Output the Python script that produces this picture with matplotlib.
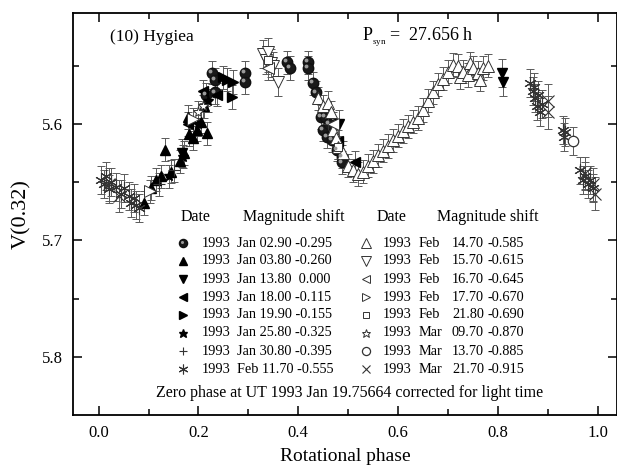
import matplotlib
matplotlib.use("Agg")
import matplotlib.pyplot as plt
from matplotlib import transforms

plt.rcParams["font.family"] = ["Liberation Serif", "DejaVu Serif"]
plt.rcParams["mathtext.fontset"] = "custom"
plt.rcParams["mathtext.rm"] = "Liberation Serif"
plt.rcParams["mathtext.it"] = "Liberation Serif:italic"

# ---- light-curve data: rotational phase, reduced V magnitude, 1-sigma error ----
jan0290_phase = [0.215, 0.227, 0.233, 0.233, 0.293, 0.293, 0.377, 0.384, 0.420, 0.420,
                 0.430, 0.436, 0.446, 0.454, 0.450, 0.458, 0.468, 0.462, 0.478, 0.488, 0.488]
jan0290_mag = [5.575, 5.556, 5.562, 5.573, 5.556, 5.564, 5.547, 5.552, 5.547, 5.552,
               5.565, 5.573, 5.594, 5.594, 5.605, 5.611, 5.614, 5.600, 5.622, 5.628, 5.633]
jan0290_err = 0.010

jan0380_phase = [0.090, 0.105, 0.115, 0.125, 0.133, 0.145, 0.163, 0.172, 0.179, 0.181,
                 0.190, 0.198, 0.205, 0.212, 0.217]
jan0380_mag = [5.668, 5.655, 5.648, 5.645, 5.622, 5.641, 5.632, 5.625, 5.594, 5.609,
               5.612, 5.605, 5.598, 5.585, 5.608]
jan0380_err = 0.010

jan1380_phase = [0.167, 0.482, 0.808, 0.810]
jan1380_mag = [5.625, 5.600, 5.556, 5.564]
jan1380_err = 0.012

jan1800_phase = [0.180, 0.210, 0.237, 0.480, 0.514]
jan1800_mag = [5.600, 5.572, 5.575, 5.615, 5.633]
jan1800_err = 0.010

jan1990_phase = [0.250, 0.257, 0.267, 0.270]
jan1990_mag = [5.560, 5.562, 5.577, 5.564]
jan1990_err = 0.010

jan2580_phase = [0.140, 0.170, 0.200, 0.220]
jan2580_mag = [5.645, 5.628, 5.600, 5.580]
jan2580_err = 0.010

jan3080_phase = [0.120, 0.150, 0.460]
jan3080_mag = [5.652, 5.640, 5.600]
jan3080_err = 0.010

feb1170_phase = [0.005, 0.010, 0.015, 0.020, 0.025, 0.035, 0.045, 0.050, 0.060, 0.065,
                 0.070, 0.075, 0.080, 0.865, 0.870, 0.872, 0.875, 0.878, 0.880, 0.885,
                 0.888, 0.930, 0.932, 0.935, 0.965, 0.970, 0.975, 0.980, 0.985, 0.990]
feb1170_mag = [5.648, 5.652, 5.645, 5.656, 5.650, 5.654, 5.660, 5.655, 5.662, 5.668,
               5.664, 5.670, 5.672, 5.565, 5.572, 5.568, 5.578, 5.585, 5.575, 5.590,
               5.583, 5.605, 5.611, 5.607, 5.640, 5.648, 5.645, 5.652, 5.648, 5.655]
feb1170_err = 0.012

feb1470_phase = [0.440, 0.450, 0.460, 0.465, 0.470, 0.475, 0.480, 0.490, 0.500, 0.510,
                 0.520, 0.530, 0.540, 0.550, 0.560, 0.570, 0.580, 0.590, 0.600, 0.610,
                 0.620, 0.630, 0.640, 0.650, 0.660, 0.670, 0.680, 0.690, 0.700, 0.710,
                 0.720, 0.725, 0.730, 0.740, 0.745, 0.750, 0.760, 0.765, 0.770, 0.780]
feb1470_mag = [5.578, 5.585, 5.582, 5.590, 5.605, 5.612, 5.620, 5.625, 5.636, 5.640,
               5.643, 5.641, 5.636, 5.632, 5.627, 5.623, 5.619, 5.614, 5.610, 5.606,
               5.602, 5.598, 5.595, 5.588, 5.580, 5.573, 5.566, 5.561, 5.555, 5.549,
               5.550, 5.560, 5.555, 5.558, 5.548, 5.552, 5.556, 5.562, 5.552, 5.550]
feb1470_err = 0.010

feb1570_phase = [0.330, 0.335, 0.340, 0.345, 0.350, 0.360]
feb1570_mag = [5.540, 5.545, 5.538, 5.548, 5.550, 5.564]
feb1570_err = 0.012

feb1670_phase = [0.340, 0.470]
feb1670_mag = [5.552, 5.600]
feb1670_err = 0.010

feb1770_phase = [0.103, 0.190]
feb1770_mag = [5.658, 5.596]
feb1770_err = 0.010

feb2180_phase = [0.340, 0.480]
feb2180_mag = [5.545, 5.620]
feb2180_err = 0.010

mar0970_phase = [0.200, 0.210]
mar0970_mag = [5.590, 5.585]
mar0970_err = 0.010

mar1370_phase = [0.950]
mar1370_mag = [5.615]
mar1370_err = 0.012

mar2170_phase = [0.020, 0.040, 0.900, 0.900, 0.975, 0.990, 0.995]
mar2170_mag = [5.652, 5.662, 5.580, 5.590, 5.642, 5.652, 5.660]
mar2170_err = 0.014

# legend table
legend_years = ["1993"] * 16
legend_months = ["Jan", "Jan", "Jan", "Jan", "Jan", "Jan", "Jan", "Feb",
                 "Feb", "Feb", "Feb", "Feb", "Feb", "Mar", "Mar", "Mar"]
legend_days = ["02.90", "03.80", "13.80", "18.00", "19.90", "25.80", "30.80", "11.70",
               "14.70", "15.70", "16.70", "17.70", "21.80", "09.70", "13.70", "21.70"]
legend_shifts = ["-0.295", "-0.260", " 0.000", "-0.115", "-0.155", "-0.325", "-0.395", "-0.555",
                 "-0.585", "-0.615", "-0.645", "-0.670", "-0.690", "-0.870", "-0.885", "-0.915"]

x_ticks = [0.0, 0.2, 0.4, 0.6, 0.8, 1.0]
y_ticks = [5.6, 5.7, 5.8]

# ---- figure ----
fig = plt.figure(figsize=(6.17, 4.65), dpi=100)
ax = fig.add_axes([73 / 617, 50 / 465, 544 / 617, 401.7 / 465])

ASTER = (6, 2, 0)
series = [
    (jan0290_phase, jan0290_mag, jan0290_err, dict(marker="o", mfc="#1a1a1a", mec="#111111", ms=7.5)),
    (jan0380_phase, jan0380_mag, jan0380_err, dict(marker="^", mfc="black", mec="black", ms=7.5)),
    (jan1380_phase, jan1380_mag, jan1380_err, dict(marker="v", mfc="black", mec="black", ms=7.5)),
    (jan1800_phase, jan1800_mag, jan1800_err, dict(marker="<", mfc="black", mec="black", ms=7.5)),
    (jan1990_phase, jan1990_mag, jan1990_err, dict(marker=">", mfc="black", mec="black", ms=7.5)),
    (jan2580_phase, jan2580_mag, jan2580_err, dict(marker="*", mfc="black", mec="black", ms=8)),
    (jan3080_phase, jan3080_mag, jan3080_err, dict(marker="+", mfc="none", mec="#333333", ms=8, mew=0.8)),
    (feb1170_phase, feb1170_mag, feb1170_err, dict(marker=ASTER, mfc="none", mec="#333333", ms=9, mew=0.8)),
    (feb1470_phase, feb1470_mag, feb1470_err, dict(marker="^", mfc="white", mec="#333333", ms=9, mew=0.7)),
    (feb1570_phase, feb1570_mag, feb1570_err, dict(marker="v", mfc="white", mec="#333333", ms=9, mew=0.7)),
    (feb1670_phase, feb1670_mag, feb1670_err, dict(marker="<", mfc="white", mec="#333333", ms=8, mew=0.7)),
    (feb1770_phase, feb1770_mag, feb1770_err, dict(marker=">", mfc="white", mec="#333333", ms=8, mew=0.7)),
    (feb2180_phase, feb2180_mag, feb2180_err, dict(marker="s", mfc="white", mec="#333333", ms=6, mew=0.7)),
    (mar0970_phase, mar0970_mag, mar0970_err, dict(marker="*", mfc="white", mec="#333333", ms=8, mew=0.7)),
    (mar1370_phase, mar1370_mag, mar1370_err, dict(marker="o", mfc="white", mec="#333333", ms=7.5, mew=0.9)),
    (mar2170_phase, mar2170_mag, mar2170_err, dict(marker="x", mfc="none", mec="#333333", ms=8, mew=0.8)),
]

for ph, mag, err, style in series:
    ax.errorbar(ph, mag, yerr=err, fmt="none", ecolor="#5a5a5a", elinewidth=0.7,
                capsize=3.2, capthick=0.7, zorder=2)
for ph, mag, err, style in series:
    ax.plot(ph, mag, ls="none", zorder=3, **style)

# shading highlight on the sphere symbols
hl = transforms.offset_copy(ax.transData, fig=fig, x=-1.3, y=1.3, units="points")
ax.plot(jan0290_phase, jan0290_mag, ls="none", marker="o", ms=2.8, mfc="#9a9a9a",
        mec="none", transform=hl, zorder=4)

ax.set_xlim(-0.0515, 1.039)
ax.set_ylim(5.85, 5.505)
ax.set_xticks(x_ticks)
ax.set_xticks([0.1, 0.3, 0.5, 0.7, 0.9], minor=True)
ax.set_yticks(y_ticks)
ax.set_yticks([5.55, 5.65, 5.75], minor=True)
ax.set_xticklabels([f"{t:.1f}" for t in x_ticks])
ax.set_yticklabels([f"{t:.1f}" for t in y_ticks])
ax.tick_params(which="both", direction="in", top=True, right=True, width=1.1, labelsize=12)
ax.tick_params(which="major", length=6.5, pad=7)
ax.tick_params(which="minor", length=4)
for sp in ax.spines.values():
    sp.set_linewidth(1.3)

ax.set_xlabel("Rotational phase", fontsize=14, labelpad=5)
ax.set_ylabel("V(0.32)", fontsize=16, labelpad=8)

# titles inside the panel
ax.text(0.068, 0.94, "(10) Hygiea", transform=ax.transAxes, fontsize=12.5, va="center")
ax.text(0.531, 0.94, r"P$_{_{\mathrm{syn}}}$ =  27.656 h", transform=ax.transAxes,
        fontsize=13, va="center")


def fx(px):
    return (px - 73) / 544


def fy(py):
    return (415 - py) / 401.7


hdr_kw = dict(transform=ax.transAxes, fontsize=11.5, va="center")
row_kw = dict(transform=ax.transAxes, fontsize=10.3, va="center")
ax.text(fx(181), fy(217), "Date", **hdr_kw)
ax.text(fx(243), fy(217), "Magnitude shift", **hdr_kw)
ax.text(fx(377), fy(217), "Date", **hdr_kw)
ax.text(fx(437), fy(217), "Magnitude shift", **hdr_kw)

row_y = [243, 261, 279, 297, 315, 333, 351, 369]
for i, (_, _, _, style) in enumerate(series):
    col = i // 8
    py = row_y[i % 8]
    key = dict(style)
    key["ms"] = key["ms"] * 0.78
    if col == 0:
        mx, tx = 183, 202
        ax.plot([fx(mx)], [fy(py)], transform=ax.transAxes, ls="none", clip_on=False, **key)
        if i == 0:
            ax.plot([fx(mx)], [fy(py)], transform=transforms.offset_copy(
                ax.transAxes, fig=fig, x=-1.0, y=1.0, units="points"),
                ls="none", marker="o", ms=2.2, mfc="#9a9a9a", mec="none")
        ax.text(fx(tx), fy(py), legend_years[i], **row_kw)
        ax.text(fx(237), fy(py), f"{legend_months[i]} {legend_days[i]} {legend_shifts[i]}", **row_kw)
    else:
        mx = 366
        ax.plot([fx(mx)], [fy(py)], transform=ax.transAxes, ls="none", clip_on=False, **key)
        ax.text(fx(383), fy(py), legend_years[i], **row_kw)
        ax.text(fx(419), fy(py), legend_months[i], **row_kw)
        ax.text(fx(452), fy(py), legend_days[i], **row_kw)
        ax.text(fx(488), fy(py), legend_shifts[i], **row_kw)

ax.text(fx(350), fy(393), "Zero phase at UT 1993 Jan 19.75664 corrected for light time",
        transform=ax.transAxes, fontsize=11.5, ha="center", va="center")

fig.savefig("out.png", dpi=100)
